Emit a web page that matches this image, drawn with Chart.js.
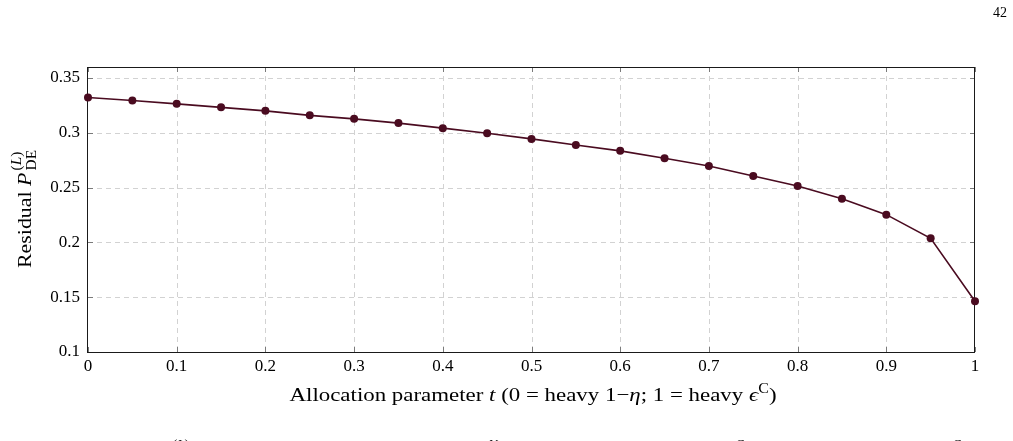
<!DOCTYPE html>
<html>
<head>
<meta charset="utf-8">
<script src="https://cdn.jsdelivr.net/npm/chart.js@4.4.1/dist/chart.umd.min.js"></script>
<style>
html,body{margin:0;padding:0;background:#fff;}
#c{display:block;}
</style>
</head>
<body>
<canvas id="c" width="1013" height="441"></canvas>
<script>
// ---- data ----
const tValues = [0,0.05,0.1,0.15,0.2,0.25,0.3,0.35,0.4,0.45,0.5,0.55,0.6,0.65,0.7,0.75,0.8,0.85,0.9,0.95,1];
const residualValues = [0.3322,0.3294,0.3264,0.3232,0.3200,0.3159,0.3127,0.3088,0.3042,0.2996,0.2944,0.2889,0.2835,0.2768,0.2697,0.2606,0.2515,0.2399,0.2253,0.2037,0.1463];
const xTicks = [0,0.1,0.2,0.3,0.4,0.5,0.6,0.7,0.8,0.9,1];
const xTickLabels = ['0','0.1','0.2','0.3','0.4','0.5','0.6','0.7','0.8','0.9','1'];
const yTicks = [0.1,0.15,0.2,0.25,0.3,0.35];
const yTickLabels = ['0.1','0.15','0.2','0.25','0.3','0.35'];

const SERIF = '"Liberation Serif", "DejaVu Serif", serif';
const LINE_COLOR = '#4a0b20';

function fontOf(seg, base){
  const size = base * (seg.scale || 1);
  return (seg.italic ? 'italic ' : '') + size + 'px ' + SERIF;
}
function segWidth(ctx, seg, base){
  if (seg.stack){ return Math.max(...seg.stack.map(s => runWidth(ctx, s, base))); }
  ctx.font = fontOf(seg, base);
  return ctx.measureText(seg.text).width;
}
function runWidth(ctx, run, base){
  return run.reduce((w, s) => w + segWidth(ctx, s, base), 0);
}
function drawRun(ctx, run, x, y, base){
  run.forEach(s => {
    if (s.stack){
      const w = segWidth(ctx, s, base);
      s.stack.forEach(r => drawRun(ctx, r, x, y, base));
      x += w;
    } else {
      ctx.font = fontOf(s, base);
      ctx.fillText(s.text, x, y + (s.dy || 0) * base);
      x += ctx.measureText(s.text).width;
    }
  });
}
function drawRich(ctx, run, cx, cy, base, targetWidth, rotate){
  const W = runWidth(ctx, run, base);
  const sx = targetWidth ? targetWidth / W : 1;
  ctx.save();
  ctx.translate(cx, cy);
  if (rotate) ctx.rotate(-Math.PI / 2);
  ctx.scale(sx, 1);
  ctx.fillStyle = '#000';
  ctx.textBaseline = 'alphabetic';
  ctx.textAlign = 'left';
  drawRun(ctx, run, -W / 2, 0, base);
  ctx.restore();
}

const xLabel = [
  {text:'Allocation parameter '},
  {text:'t', italic:true},
  {text:' (0 = heavy 1'},
  {text:'\u2212'},
  {text:'\u03B7', italic:true},
  {text:'; 1 = heavy '},
  {text:'\u03F5', italic:true},
  {text:'C', scale:0.7, dy:-0.42},
  {text:')'}
];
const yLabel = [
  {text:'Residual '},
  {text:'P', italic:true},
  {text:'\u2009', scale:0.5},
  {stack:[
    [{text:'(', scale:0.7, dy:-0.5},{text:'L', italic:true, scale:0.7, dy:-0.5},{text:')', scale:0.7, dy:-0.5}],
    [{text:'DE', scale:0.7, dy:0.28}]
  ]}
];

const framePlugin = {
  id: 'frame',
  beforeDatasetsDraw(chart){
    const {ctx, chartArea:a, scales:{x, y}} = chart;
    ctx.save();
    // dashed grid
    ctx.strokeStyle = '#d2d2d2';
    ctx.lineWidth = 1;
    ctx.setLineDash([5,4]);
    ctx.beginPath();
    xTicks.forEach(v => {
      if (v <= 0 || v >= 1) return;
      const px = Math.round(x.getPixelForValue(v)) + 0.5;
      ctx.moveTo(px, a.top); ctx.lineTo(px, a.bottom);
    });
    yTicks.forEach(v => {
      const py = Math.round(y.getPixelForValue(v)) + 0.5;
      if (py >= a.bottom - 1) return;
      ctx.moveTo(a.left, py); ctx.lineTo(a.right, py);
    });
    ctx.stroke();
    ctx.setLineDash([]);
    // inward tick marks
    ctx.strokeStyle = '#7a7a7a';
    ctx.beginPath();
    const L = 5;
    xTicks.forEach(v => {
      const px = Math.round(x.getPixelForValue(v)) + 0.5;
      ctx.moveTo(px, a.bottom); ctx.lineTo(px, a.bottom - L);
      ctx.moveTo(px, a.top); ctx.lineTo(px, a.top + L);
    });
    yTicks.forEach(v => {
      const py = Math.round(y.getPixelForValue(v)) + 0.5;
      ctx.moveTo(a.left, py); ctx.lineTo(a.left + L, py);
      ctx.moveTo(a.right, py); ctx.lineTo(a.right - L, py);
    });
    ctx.stroke();
    // frame
    ctx.strokeStyle = '#1a1a1a';
    ctx.lineWidth = 1;
    ctx.strokeRect(Math.round(a.left) - 0.5, Math.round(a.top) + 0.5, Math.round(a.right - a.left) + 0, Math.round(a.bottom - a.top));
    ctx.restore();
  },
  afterDraw(chart){
    const {ctx} = chart;
    drawRich(ctx, xLabel, 533, 401, 19.5, 487, false);
    drawRich(ctx, yLabel, 31, 209, 19.5, 118, true);
    ctx.save();
    ctx.fillStyle = '#000';
    ctx.font = '14px ' + SERIF;
    ctx.textAlign = 'right';
    ctx.textBaseline = 'alphabetic';
    ctx.fillText('42', 1007, 17);
    // clipped fragments of the next text line
    ctx.textAlign = 'left';
    drawRun(ctx, [{text:'(', scale:1},{text:'L', italic:true},{text:')'}], 173, 448, 13);
    ctx.font = 'italic 13px ' + SERIF;
    ctx.fillText('V', 489, 448);
    ctx.font = '13px ' + SERIF;
    ctx.fillText('C', 736, 448);
    ctx.fillText('C', 953, 448);
    ctx.restore();
  }
};

new Chart(document.getElementById('c'), {
  type: 'line',
  data: {
    datasets: [{
      data: tValues.map((t, i) => ({x: t, y: residualValues[i]})),
      borderColor: LINE_COLOR,
      backgroundColor: LINE_COLOR,
      borderWidth: 1.6,
      pointRadius: 4,
      pointBorderWidth: 0,
      pointBackgroundColor: LINE_COLOR,
      tension: 0,
      clip: false
    }]
  },
  options: {
    responsive: false,
    animation: false,
    devicePixelRatio: 1,
    layout: {padding: {top: 67, right: 38, left: 0, bottom: 0}},
    plugins: {legend: {display: false}, tooltip: {enabled: false}},
    scales: {
      x: {
        type: 'linear', min: 0, max: 1,
        afterBuildTicks: s => { s.ticks = xTicks.map(v => ({value: v})); },
        afterFit: s => { s.height = 89; },
        ticks: {
          autoSkip: false, maxRotation: 0, padding: 4, color: '#000',
          font: {family: SERIF, size: 17},
          callback: (v, i) => xTickLabels[i]
        },
        grid: {display: false, drawTicks: false},
        border: {display: false}
      },
      y: {
        type: 'linear', min: 0.1, max: 0.36,
        afterBuildTicks: s => { s.ticks = yTicks.map(v => ({value: v})); },
        afterFit: s => { s.width = 88; },
        ticks: {
          autoSkip: false, padding: 8, color: '#000',
          font: {family: SERIF, size: 17},
          callback: (v, i) => yTickLabels[i]
        },
        grid: {display: false, drawTicks: false},
        border: {display: false}
      }
    }
  },
  plugins: [framePlugin]
});
</script>
</body>
</html>
